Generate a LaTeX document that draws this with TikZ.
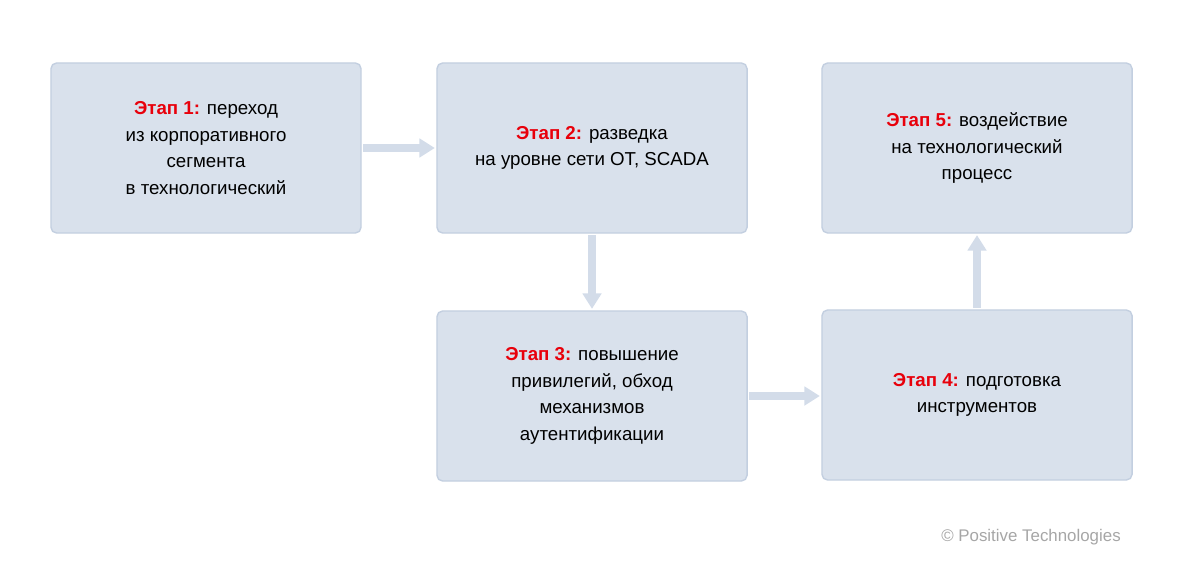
\documentclass[tikz,border=0pt]{standalone}
\usepackage{fontspec}
\setmainfont{Liberation Sans}
\usetikzlibrary{arrows.meta}
\definecolor{boxfill}{HTML}{D9E1EC}
\definecolor{boxline}{HTML}{C3CFE0}
\definecolor{arrowfill}{HTML}{D3DCE9}
\definecolor{stagered}{HTML}{E8000B}
\tikzstyle{stagebox} = [rectangle, rounded corners=4pt, minimum width=7.75cm,
minimum height=4.25cm, text centered, draw=boxline, line width=1pt, fill=boxfill,
font=\fontsize{13.3}{18.8}\selectfont, align=center]
\tikzstyle{arrow} = [draw=arrowfill, line width=5pt,
-{Triangle[length=11pt,width=13pt]}, shorten <=1pt, shorten >=1pt]
\newcommand{\stage}[1]{\textcolor{stagered}{\bfseries Этап #1:}}

\begin{document}
\begin{tikzpicture}[x=0.025cm, y=-0.025cm]
\useasboundingbox (0,0) rectangle (1183,579);

\node(st1)[stagebox] at (206,148){\stage{1} переход\\из корпоративного\\сегмента\\в технологический};
\node(st2)[stagebox] at (592,148){\stage{2} разведка\\на уровне сети ОТ, SCADA};
\node(st3)[stagebox] at (592,396){\stage{3} повышение\\привилегий, обход\\механизмов\\аутентификации};
\node(st4)[stagebox] at (977,395){\stage{4} подготовка\\инструментов};
\node(st5)[stagebox] at (977,148){\stage{5} воздействие\\на технологический\\процесс};
\node(copy)[text=gray!70, font=\fontsize{12}{14}\selectfont] at (1031,537){© Positive Technologies};

\draw[arrow](st1) -- (st2);
\draw[arrow](st2) -- (st3);
\draw[arrow](st3.east |- 0,396) -- (st4.west |- 0,396);
\draw[arrow](st4) -- (st5);

\end{tikzpicture}
\end{document}
